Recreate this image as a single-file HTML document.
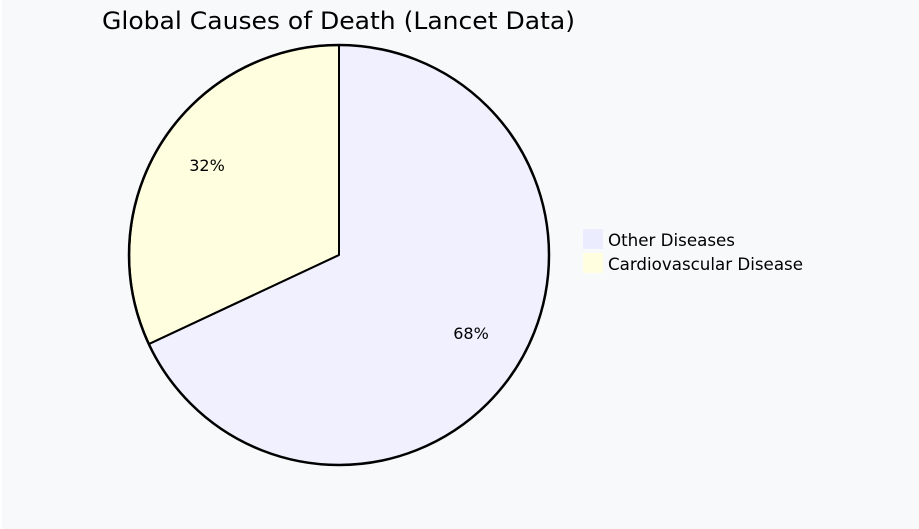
<!DOCTYPE html>
<html><head><style>
html,body{margin:0;padding:0;background:#f8f9fb;width:919px;height:529px;overflow:hidden}
svg{display:block}
text{font-family:"DejaVu Sans","Liberation Sans",sans-serif;fill:#000}
</style></head><body>
<svg width="919" height="529" viewBox="0 0 919 529">
<rect x="0" y="0" width="919" height="529" fill="#f8f9fb"/>
<rect x="0" y="0" width="2" height="529" fill="#ffffff"/>
<text x="102" y="29" font-size="24" textLength="473" lengthAdjust="spacingAndGlyphs">Global Causes of Death (Lancet Data)</text>
<circle cx="339" cy="255" r="210" fill="#f0f0ff"/>
<path d="M339,255 L339,45 A210,210 0 0,0 149,344 Z" fill="#ffffe0" stroke="#000" stroke-width="2" stroke-linejoin="round"/>
<path d="M339,255 L149,344" stroke="#000" stroke-width="2"/>
<circle cx="339" cy="255" r="210" fill="none" stroke="#000" stroke-width="2.5"/>
<text x="207" y="171" font-size="16" text-anchor="middle" fill="#333">32%</text>
<text x="471" y="339" font-size="16" text-anchor="middle" fill="#333">68%</text>
<rect x="583" y="229" width="20" height="20" fill="#ececff"/>
<rect x="583" y="253" width="20" height="20" fill="#ffffe0"/>
<text x="608" y="246" font-size="17" textLength="127" lengthAdjust="spacingAndGlyphs">Other Diseases</text>
<text x="608" y="270" font-size="17" textLength="195" lengthAdjust="spacingAndGlyphs">Cardiovascular Disease</text>
</svg>
</body></html>
